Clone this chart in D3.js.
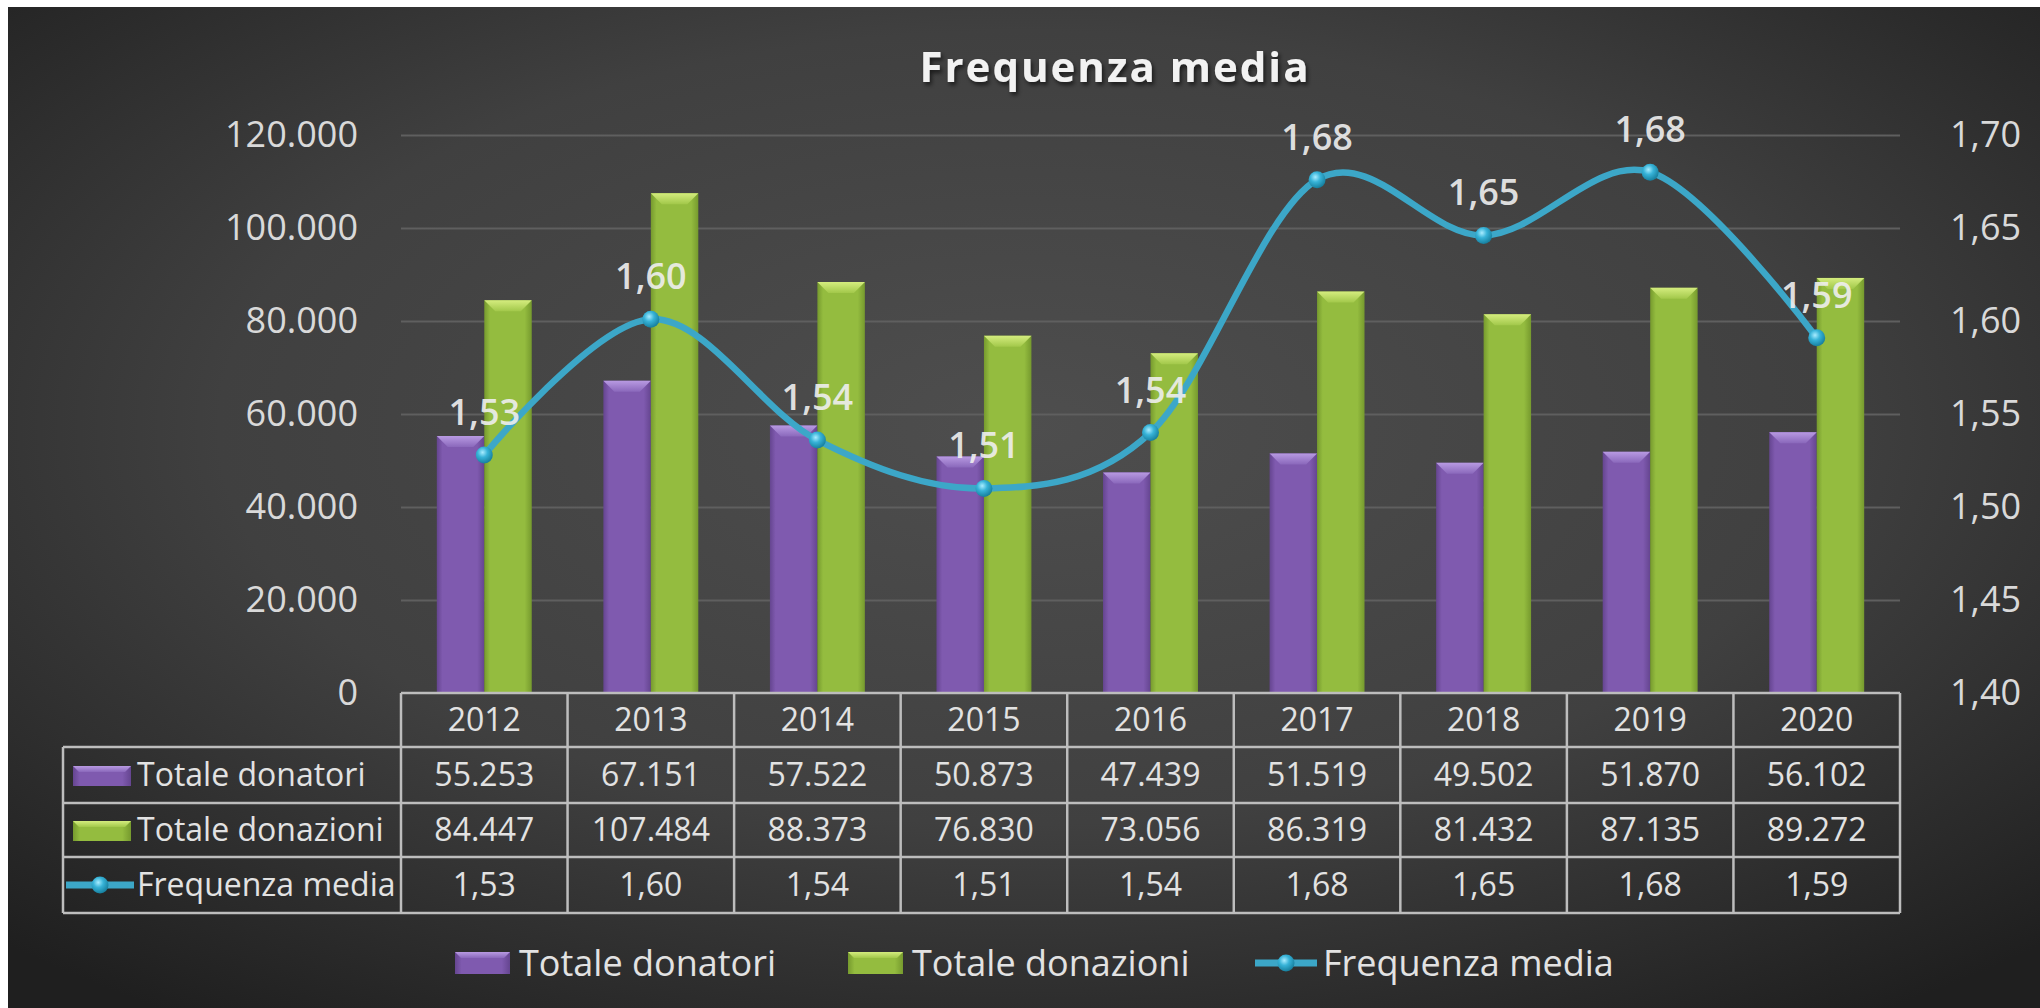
<!doctype html>
<html>
<head>
<meta charset="utf-8">
<script src="https://cdnjs.cloudflare.com/ajax/libs/d3/7.8.5/d3.min.js"></script>
<style>
html, body { margin: 0; padding: 0; background: #fff; }
svg { display: block; font-family: "Open Sans", sans-serif; }
</style>
</head>
<body>
<svg id="chart" width="2040" height="1008"></svg>
<script>
// values
var years = ["2012", "2013", "2014", "2015", "2016", "2017", "2018", "2019", "2020"];
var donatori = [55253, 67151, 57522, 50873, 47439, 51519, 49502, 51870, 56102];
var donazioni = [84447, 107484, 88373, 76830, 73056, 86319, 81432, 87135, 89272];
var frequenza = [1.528, 1.601, 1.536, 1.510, 1.540, 1.676, 1.646, 1.680, 1.591];
var leftTicks = [0, 20000, 40000, 60000, 80000, 100000, 120000];
var rightTicks = [1.40, 1.45, 1.50, 1.55, 1.60, 1.65, 1.70];
var seriesNames = ["Totale donatori", "Totale donazioni", "Frequenza media"];
var title = "Frequenza media";

var it = d3.formatLocale({decimal: ",", thousands: ".", grouping: [3], currency: ["€", ""]});
var fmtInt = it.format(",.0f"), fmtDec = it.format(".2f");

var svg = d3.select("#chart");
var defs = svg.append("defs");

var bg = defs.append("radialGradient").attr("id", "bg")
  .attr("cx", "50%").attr("cy", "42%").attr("r", "72%");
bg.append("stop").attr("offset", "0%").attr("stop-color", "#4e4e4e");
bg.append("stop").attr("offset", "55%").attr("stop-color", "#404040");
bg.append("stop").attr("offset", "100%").attr("stop-color", "#1f1f1f");

function barGrad(id, c0, c1) {
  var g = defs.append("linearGradient").attr("id", id).attr("x1", 0).attr("x2", 1);
  g.append("stop").attr("offset", "0%").attr("stop-color", c1);
  g.append("stop").attr("offset", "12%").attr("stop-color", c0);
  g.append("stop").attr("offset", "85%").attr("stop-color", c0);
  g.append("stop").attr("offset", "100%").attr("stop-color", c1);
}
barGrad("gPurple", "#7f5aaf", "#654590");
barGrad("gGreen", "#94bc3f", "#769a2e");

function topGrad(id, c0, c1) {
  var g = defs.append("linearGradient").attr("id", id).attr("x1", 0).attr("x2", 0).attr("y1", 0).attr("y2", 1);
  g.append("stop").attr("offset", "0%").attr("stop-color", c0);
  g.append("stop").attr("offset", "100%").attr("stop-color", c1);
}
topGrad("tPurple", "#b89ae2", "#8a68bb");
topGrad("tGreen", "#d4ec7e", "#a2c84a");

var mk = defs.append("radialGradient").attr("id", "marker")
  .attr("cx", "40%").attr("cy", "35%").attr("r", "65%");
mk.append("stop").attr("offset", "0%").attr("stop-color", "#a8ecff");
mk.append("stop").attr("offset", "45%").attr("stop-color", "#37b3d8");
mk.append("stop").attr("offset", "100%").attr("stop-color", "#17809f");

var sh = defs.append("filter").attr("id", "shadow").attr("x", "-10%").attr("y", "-30%").attr("width", "120%").attr("height", "160%");
sh.append("feDropShadow").attr("dx", 2).attr("dy", 3).attr("stdDeviation", 2).attr("flood-color", "#000").attr("flood-opacity", 0.6);

svg.append("rect").attr("x", 8).attr("y", 7).attr("width", 2032).attr("height", 1001).attr("fill", "url(#bg)");

var x = d3.scaleBand().domain(years).range([401, 1900]);
var bw = x.bandwidth();
var xs = d3.scaleBand().domain([0, 1]).range([bw * 0.215, bw * 0.785]);
var yL = d3.scaleLinear().domain([0, 120000]).range([693, 135]);
var yR = d3.scaleLinear().domain([1.40, 1.70]).range([693, 135]);

// gridlines
svg.append("g").attr("transform", "translate(401,0)")
  .call(d3.axisLeft(yL).tickValues(leftTicks.slice(1)).tickSize(-(1900 - 401)).tickFormat(""))
  .call(function(g) {
    g.select(".domain").remove();
    g.selectAll("line").attr("stroke", "#5f5f5f").attr("stroke-width", 2);
  });

// axes
svg.append("g").attr("transform", "translate(401,0)")
  .call(d3.axisLeft(yL).tickValues(leftTicks).tickSize(0).tickPadding(43).tickFormat(fmtInt))
  .call(function(g) {
    g.select(".domain").remove();
    g.selectAll("text").attr("fill", "#d9d9d9").style("font-size", "36px").style("font-family", "Open Sans");
  });
svg.append("g").attr("transform", "translate(1900,0)")
  .call(d3.axisRight(yR).tickValues(rightTicks).tickSize(0).tickPadding(50).tickFormat(fmtDec))
  .call(function(g) {
    g.select(".domain").remove();
    g.selectAll("text").attr("fill", "#d9d9d9").style("font-size", "36px").style("font-family", "Open Sans");
  });

// bars
var series = [
  {vals: donatori, fill: "url(#gPurple)", top: "url(#tPurple)"},
  {vals: donazioni, fill: "url(#gGreen)", top: "url(#tGreen)"}
];
var bevel = 11;
series.forEach(function(s, si) {
  var g = svg.append("g");
  g.selectAll("rect").data(s.vals).join("rect")
    .attr("x", function(d, i) { return x(years[i]) + xs(si); })
    .attr("y", function(d) { return yL(d); })
    .attr("width", xs.bandwidth())
    .attr("height", function(d) { return yL(0) - yL(d); })
    .attr("fill", s.fill);
  g.selectAll("path").data(s.vals).join("path")
    .attr("d", function(d, i) {
      var x0 = x(years[i]) + xs(si), x1 = x0 + xs.bandwidth(), y0 = yL(d);
      return "M" + x0 + "," + y0 + "L" + x1 + "," + y0 + "L" + (x1 - bevel) + "," + (y0 + bevel) + "L" + (x0 + bevel) + "," + (y0 + bevel) + "Z";
    })
    .attr("fill", s.top);
});

// line
var pts = frequenza.map(function(v, i) { return [x(years[i]) + bw / 2, yR(v)]; });
svg.append("path")
  .attr("d", d3.line().curve(d3.curveCardinal.tension(0))(pts))
  .attr("fill", "none").attr("stroke", "#3ca7c8").attr("stroke-width", 6.5);
svg.append("g").selectAll("circle").data(pts).join("circle")
  .attr("cx", function(d) { return d[0]; }).attr("cy", function(d) { return d[1]; })
  .attr("r", 8.5).attr("fill", "url(#marker)");
svg.append("g").selectAll("text").data(pts).join("text")
  .attr("x", function(d) { return d[0]; }).attr("y", function(d) { return d[1] - 30; })
  .attr("text-anchor", "middle").attr("fill", "#eeeeee").attr("fill-opacity", 0.92)
  .style("font-size", "36px").style("font-weight", 600)
  .text(function(d, i) { return fmtDec(frequenza[i]); });

// data table
var rows = [693, 747, 803, 857, 913];
var tLeft = 63, tRight = 1900;
var tg = svg.append("g").attr("stroke", "#bdbdbd").attr("stroke-width", 2.5);
tg.append("line").attr("x1", 401).attr("x2", tRight).attr("y1", rows[0]).attr("y2", rows[0]);
rows.slice(1).forEach(function(r) {
  tg.append("line").attr("x1", tLeft).attr("x2", tRight).attr("y1", r).attr("y2", r);
});
tg.append("line").attr("x1", tLeft).attr("x2", tLeft).attr("y1", rows[1]).attr("y2", rows[4]);
years.forEach(function(yr) {
  tg.append("line").attr("x1", x(yr)).attr("x2", x(yr)).attr("y1", rows[0]).attr("y2", rows[4]);
});
tg.append("line").attr("x1", tRight).attr("x2", tRight).attr("y1", rows[0]).attr("y2", rows[4]);

var cellRows = [
  years,
  donatori.map(fmtInt),
  donazioni.map(fmtInt),
  frequenza.map(fmtDec)
];
cellRows.forEach(function(row, ri) {
  svg.append("g").selectAll("text").data(row).join("text")
    .attr("x", function(d, i) { return x(years[i]) + bw / 2; })
    .attr("y", (rows[ri] + rows[ri + 1]) / 2)
    .attr("dy", "0.35em").attr("text-anchor", "middle")
    .attr("fill", "#e2e2e2").style("font-size", "32px")
    .text(function(d) { return d; });
});

// legend keys
function swatch(g, x0, yc, w, h, si) {
  var s = series[si];
  g.append("rect").attr("x", x0).attr("y", yc - h / 2).attr("width", w).attr("height", h).attr("fill", s.fill);
  g.append("path")
    .attr("d", "M" + x0 + "," + (yc - h / 2) + "L" + (x0 + w) + "," + (yc - h / 2) + "L" + (x0 + w - 6) + "," + (yc - h / 2 + 6) + "L" + (x0 + 6) + "," + (yc - h / 2 + 6) + "Z")
    .attr("fill", s.top);
}
function lineKey(g, x0, x1, yc) {
  g.append("line").attr("x1", x0).attr("x2", x1).attr("y1", yc).attr("y2", yc)
    .attr("stroke", "#3ca7c8").attr("stroke-width", 7);
  g.append("circle").attr("cx", (x0 + x1) / 2).attr("cy", yc).attr("r", 8.5).attr("fill", "url(#marker)");
}

var lg = svg.append("g");
seriesNames.forEach(function(n, i) {
  var yc = (rows[i + 1] + rows[i + 2]) / 2;
  if (i < 2) swatch(lg, 73, yc + 1, 58, 20, i); else lineKey(lg, 66, 134, yc);
  lg.append("text").attr("x", 137).attr("y", yc).attr("dy", "0.35em")
    .attr("fill", "#e2e2e2").style("font-size", "32px").text(n);
});

// bottom legend
var legX = [455, 848, 1255];
var bl = svg.append("g");
seriesNames.forEach(function(n, i) {
  var yc = 963;
  if (i < 2) swatch(bl, legX[i], yc, 55, 22, i); else lineKey(bl, legX[i], legX[i] + 62, yc);
  bl.append("text").attr("x", legX[i] + (i < 2 ? 64 : 68)).attr("y", yc).attr("dy", "0.35em")
    .attr("fill", "#e2e2e2").style("font-size", "36px").text(n);
});

// title
svg.append("text").attr("x", 1115).attr("y", 82).attr("text-anchor", "middle")
  .attr("fill", "#f2f2f2").attr("filter", "url(#shadow)")
  .style("font-size", "42px").style("font-weight", "bold").style("letter-spacing", "2px")
  .text(title);
</script>
</body>
</html>
